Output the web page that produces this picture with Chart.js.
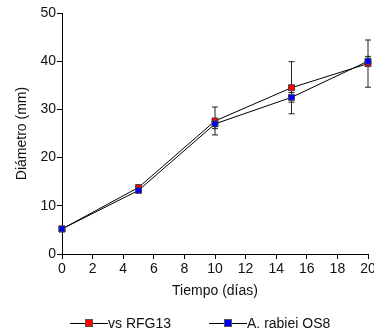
<!DOCTYPE html>
<html>
<head>
<meta charset="utf-8">
<script src="https://cdn.jsdelivr.net/npm/chart.js@4"></script>
<style>
  html, body { margin: 0; padding: 0; background: #fff; }
</style>
</head>
<body>
<canvas id="diamChart" width="374" height="335"></canvas>
<script>
// values
const dias = [0, 5, 10, 15, 20];
const rfg13 = [5.2, 13.8, 27.6, 34.5, 39.5];
const rfg13Err = [0, 0.4, 2.9, 5.4, 4.9];
const os8 = [5.2, 13.2, 27.0, 32.5, 40.0];
const os8Err = [0, 0.4, 1.0, 1.0, 1.0];
const seriesLabels = ['vs RFG13', 'A. rabiei OS8'];
const seriesColors = ['#ff0000', '#0000ff'];

const FONT = "'Liberation Sans', Arial, sans-serif";
Chart.defaults.font.family = FONT;
Chart.defaults.font.size = 14;
Chart.defaults.color = '#111';

const toPoints = (vals) => vals.map((v, i) => ({ x: dias[i], y: v }));

// vertical error bars with caps, drawn under the markers
const errorBars = {
    id: 'errorBars',
    beforeDatasetsDraw(chart) {
        const { ctx, scales: { x, y } } = chart;
        ctx.save();
        ctx.strokeStyle = '#222';
        ctx.lineWidth = 1;
        chart.data.datasets.forEach(ds => {
            ds.errors.forEach((e, i) => {
                if (!e) return;
                const px = x.getPixelForValue(ds.data[i].x);
                const top = y.getPixelForValue(ds.data[i].y + e);
                const bot = y.getPixelForValue(ds.data[i].y - e);
                ctx.beginPath();
                ctx.moveTo(px, top);
                ctx.lineTo(px, bot);
                ctx.moveTo(px - 3, top);
                ctx.lineTo(px + 3, top);
                ctx.moveTo(px - 3, bot);
                ctx.lineTo(px + 3, bot);
                ctx.stroke();
            });
        });
        ctx.restore();
    }
};

// legend as in the original: short line with a square, then the label
const lineLegend = {
    id: 'lineLegend',
    afterDraw(chart) {
        const ctx = chart.ctx;
        const legendY = 323;
        let cx = 70;
        ctx.save();
        ctx.font = '14px ' + FONT;
        ctx.textBaseline = 'middle';
        chart.data.datasets.forEach(ds => {
            ctx.strokeStyle = '#000';
            ctx.lineWidth = 1;
            ctx.beginPath();
            ctx.moveTo(cx, legendY + 0.5);
            ctx.lineTo(cx + 38, legendY + 0.5);
            ctx.stroke();
            ctx.fillStyle = ds.pointBackgroundColor;
            ctx.fillRect(cx + 15, legendY - 4, 8, 8);
            ctx.strokeStyle = '#555';
            ctx.strokeRect(cx + 15.5, legendY - 3.5, 7, 7);
            ctx.fillStyle = '#111';
            ctx.fillText(ds.label, cx + 38, legendY + 1);
            cx += 38 + ctx.measureText(ds.label).width + 38;
        });
        ctx.restore();
    }
};

const makeSet = (label, vals, errs, color, order) => ({
    label: label,
    data: toPoints(vals),
    errors: errs,
    order: order,
    borderColor: '#000',
    borderWidth: 1,
    pointStyle: 'rect',
    pointRadius: 4.2,
    pointBackgroundColor: color,
    pointBorderColor: '#444',
    pointBorderWidth: 1,
    tension: 0,
    clip: false
});

new Chart(document.getElementById('diamChart').getContext('2d'), {
    type: 'line',
    data: {
        datasets: [
            makeSet(seriesLabels[0], rfg13, rfg13Err, seriesColors[0], 1),
            makeSet(seriesLabels[1], os8, os8Err, seriesColors[1], 0)
        ]
    },
    options: {
        responsive: false,
        animation: false,
        layout: { padding: { left: 0, right: 6, top: 13, bottom: 35 } },
        plugins: {
            legend: { display: false },
            tooltip: { enabled: false }
        },
        scales: {
            x: {
                type: 'linear',
                min: 0,
                max: 20,
                ticks: { stepSize: 2, padding: 2, color: '#111' },
                grid: { drawOnChartArea: false, tickLength: 5, color: '#000' },
                border: { color: '#000' },
                title: { display: true, text: 'Tiempo (días)', padding: { top: 2, bottom: 0 }, color: '#111' },
                afterFit(scale) {
                    scale.paddingRight = 0;
                    scale.height = 46;
                }
            },
            y: {
                min: 0,
                max: 50,
                ticks: { stepSize: 10, padding: 1, color: '#111' },
                grid: { drawOnChartArea: false, tickLength: 5, color: '#000' },
                border: { color: '#000' },
                title: { display: true, text: 'Diámetro (mm)', padding: { top: 14, bottom: 0 }, color: '#111' },
                afterFit(scale) {
                    scale.width = 62;
                }
            }
        }
    },
    plugins: [errorBars, lineLegend]
});
</script>
</body>
</html>
